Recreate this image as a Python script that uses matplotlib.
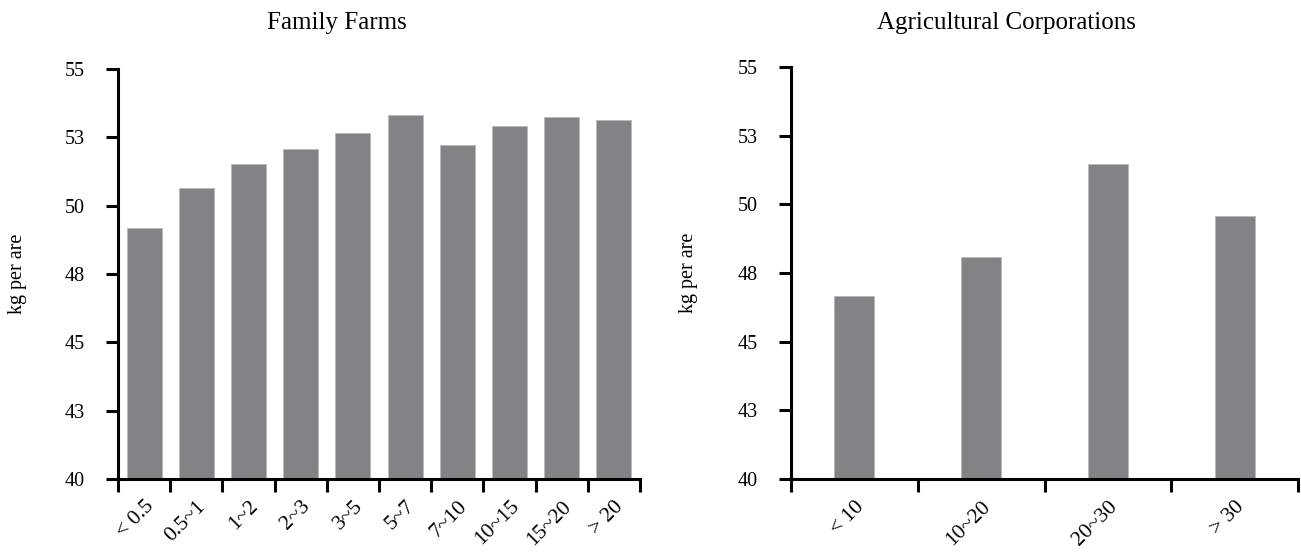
import matplotlib
matplotlib.use('Agg')
import matplotlib.pyplot as plt
import numpy as np

plt.rcParams['font.family'] = ['Liberation Serif', 'DejaVu Serif']

# yields, kg per are
family_cats = ['< 0.5', '0.5~1', '1~2', '2~3', '3~5', '5~7', '7~10', '10~15', '15~20', '> 20']
family_vals = [49.2, 50.63, 51.52, 52.07, 52.65, 53.30, 52.21, 52.92, 53.24, 53.13]

corp_cats = ['< 10', '10~20', '20~30', '> 30']
corp_vals = [46.68, 48.09, 51.46, 49.56]

yticks = [40, 42.5, 45, 47.5, 50, 52.5, 55]
ytick_labels = ['40', '43', '45', '48', '50', '53', '55']

bar_color = '#838387'

fig = plt.figure(figsize=(13.01, 5.53), dpi=100)

def panel(rect, cats, vals, width, title, title_x, ylab_x):
    ax = fig.add_axes(rect)
    x = np.arange(len(cats))
    ax.bar(x, vals, width=width, color=bar_color, edgecolor='#b8b8bb', linewidth=0.6, zorder=2)
    ax.set_ylim(40, 55)
    ax.set_xlim(-0.5, len(cats) - 0.5)
    ax.set_yticks(yticks)
    ax.set_yticklabels(ytick_labels, fontsize=14.5)
    # ticks sit on the category borders, labels at the centres
    ax.set_xticks(np.arange(len(cats) + 1) - 0.5)
    ax.set_xticklabels([])
    ax.set_xticks(x, minor=True)
    ax.set_xticklabels(cats, minor=True, rotation=45, ha='right', rotation_mode='anchor', fontsize=15.5)
    ax.tick_params(axis='x', which='minor', length=0, pad=13)
    ax.tick_params(axis='both', which='major', direction='out', length=9, width=2.2)
    ax.tick_params(axis='y', pad=15)
    for s in ['top', 'right']:
        ax.spines[s].set_visible(False)
    for s in ['left', 'bottom']:
        ax.spines[s].set_linewidth(2.2)
    ax.set_ylabel('kg per are', fontsize=14.5)
    ax.yaxis.set_label_coords(ylab_x, 0.5)
    fig.text(title_x, 1 - 23 / 553, title, ha='center', va='center', fontsize=18)
    return ax

panel([118 / 1301, 1 - 479 / 553, 522 / 1301, 410 / 553], family_cats, family_vals, 0.67,
      'Family Farms', 337 / 1301, -0.174)
panel([791 / 1301, 1 - 479 / 553, 507 / 1301, 412 / 553], corp_cats, corp_vals, 0.315,
      'Agricultural Corporations', 1006 / 1301, -0.183)

fig.savefig('out.png', dpi=100)
